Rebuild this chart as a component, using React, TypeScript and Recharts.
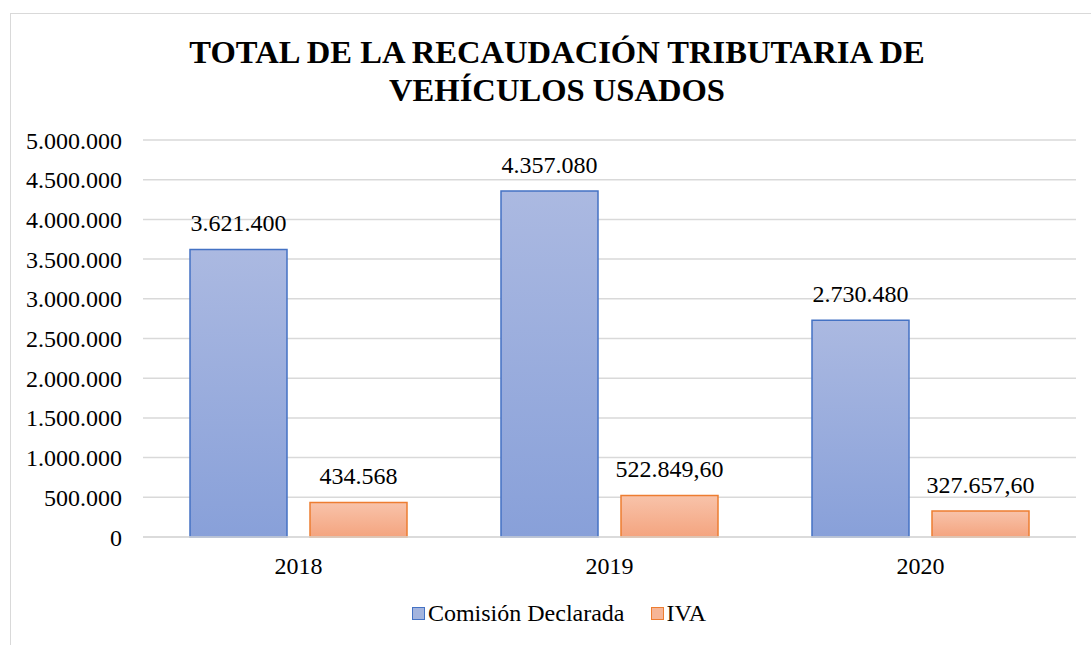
import React from "react";
import { BarChart, Bar, XAxis, YAxis, CartesianGrid, LabelList, Legend } from "recharts";

const years = ["2018", "2019", "2020"];
const comision = [3621400, 4357080, 2730480];
const iva = [434568, 522849.6, 327657.6];
const yTicks = [0, 500000, 1000000, 1500000, 2000000, 2500000, 3000000, 3500000, 4000000, 4500000, 5000000];

const data = years.map((y, i) => ({ year: y, comision: comision[i], iva: iva[i] }));

const FONT = "Liberation Serif, Tinos, Times New Roman, Times, DejaVu Serif, serif";
const FS = 24;

function fmt(v: number): string {
  const isInt = Math.abs(v - Math.round(v)) < 1e-9;
  const intPart = Math.floor(v);
  const s = String(intPart).replace(/\B(?=(\d{3})+(?!\d))/g, ".");
  if (isInt) return s;
  const dec = Math.round((v - intPart) * 100);
  return s + "," + String(dec).padStart(2, "0");
}

const legendItems = [
  { name: "Comisión Declarada", fill: "#a3b4de", stroke: "#4472c4" },
  { name: "IVA", fill: "#f6b596", stroke: "#ed7d31" },
];

const LegendContent = () => (
  <div style={{ display: "flex", justifyContent: "center", fontFamily: FONT, fontSize: FS, color: "#000" }}>
    {legendItems.map((it, i) => (
      <div key={it.name} style={{ display: "flex", alignItems: "center", marginLeft: i === 0 ? 0 : 26 }}>
        <span
          style={{
            display: "inline-block",
            width: 11,
            height: 11,
            background: it.fill,
            border: `1.5px solid ${it.stroke}`,
            marginRight: 3,
          }}
        />
        <span>{it.name}</span>
      </div>
    ))}
  </div>
);

export default function App() {
  return (
    <div style={{ position: "absolute", left: 0, top: 0, width: 1091, height: 645, overflow: "hidden", background: "#fff", fontFamily: FONT }}>
      <div
        style={{
          position: "absolute",
          left: 10,
          top: 13,
          width: 1200,
          height: 800,
          border: "1.5px solid #d9d9d9",
          boxSizing: "border-box",
        }}
      />
      <div
        style={{
          position: "absolute",
          left: 0,
          top: 33,
          width: 1114,
          textAlign: "center",
          fontFamily: FONT,
          fontWeight: "bold",
          fontSize: 32.6,
          lineHeight: "38px",
          color: "#000",
        }}
      >
        TOTAL DE LA RECAUDACIÓN TRIBUTARIA DE
        <br />
        VEHÍCULOS USADOS
      </div>
      <div style={{ position: "absolute", left: 0, top: 0 }}>
        <BarChart
          width={1091}
          height={645}
          data={data}
          margin={{ top: 140, right: 15, bottom: 74, left: 0 }}
          barCategoryGap={47}
          barGap={23}
          style={{ fontFamily: FONT }}
        >
          <defs>
            <linearGradient id="gBlue" x1="0" y1="0" x2="0" y2="1">
              <stop offset="0%" stopColor="#abb9e1" />
              <stop offset="100%" stopColor="#88a0d9" />
            </linearGradient>
            <linearGradient id="gOrange" x1="0" y1="0" x2="0" y2="1">
              <stop offset="0%" stopColor="#f8c3aa" />
              <stop offset="100%" stopColor="#f4a47f" />
            </linearGradient>
          </defs>
          <CartesianGrid vertical={false} stroke="#d9d9d9" strokeWidth={1.5} />
          <XAxis
            dataKey="year"
            height={34}
            axisLine={{ stroke: "#d9d9d9", strokeWidth: 1.5 }}
            tickLine={false}
            tickMargin={14}
            tick={{ fill: "#000", fontSize: FS, fontFamily: FONT }}
          />
          <YAxis
            width={143}
            domain={[0, 5000000]}
            ticks={yTicks}
            interval={0}
            axisLine={false}
            tickLine={false}
            tickMargin={15}
            tickFormatter={(v: number) => fmt(v)}
            tick={{ fill: "#000", fontSize: FS, fontFamily: FONT }}
          />
          <Legend
            layout="horizontal"
            verticalAlign="middle"
            align="center"
            content={<LegendContent />}
            wrapperStyle={{ top: 600, left: 0, width: 1118 }}
          />
          <Bar dataKey="comision" name="Comisión Declarada" fill="url(#gBlue)" stroke="#4472c4" strokeWidth={1.5} isAnimationActive={false}>
            <LabelList
              dataKey="comision"
              position="top"
              offset={18}
              formatter={(v: any) => fmt(Number(v))}
              style={{ fill: "#000", fontSize: FS, fontFamily: FONT }}
            />
          </Bar>
          <Bar dataKey="iva" name="IVA" fill="url(#gOrange)" stroke="#ed7d31" strokeWidth={1.5} isAnimationActive={false}>
            <LabelList
              dataKey="iva"
              position="top"
              offset={18}
              formatter={(v: any) => fmt(Number(v))}
              style={{ fill: "#000", fontSize: FS, fontFamily: FONT }}
            />
          </Bar>
        </BarChart>
      </div>
    </div>
  );
}
